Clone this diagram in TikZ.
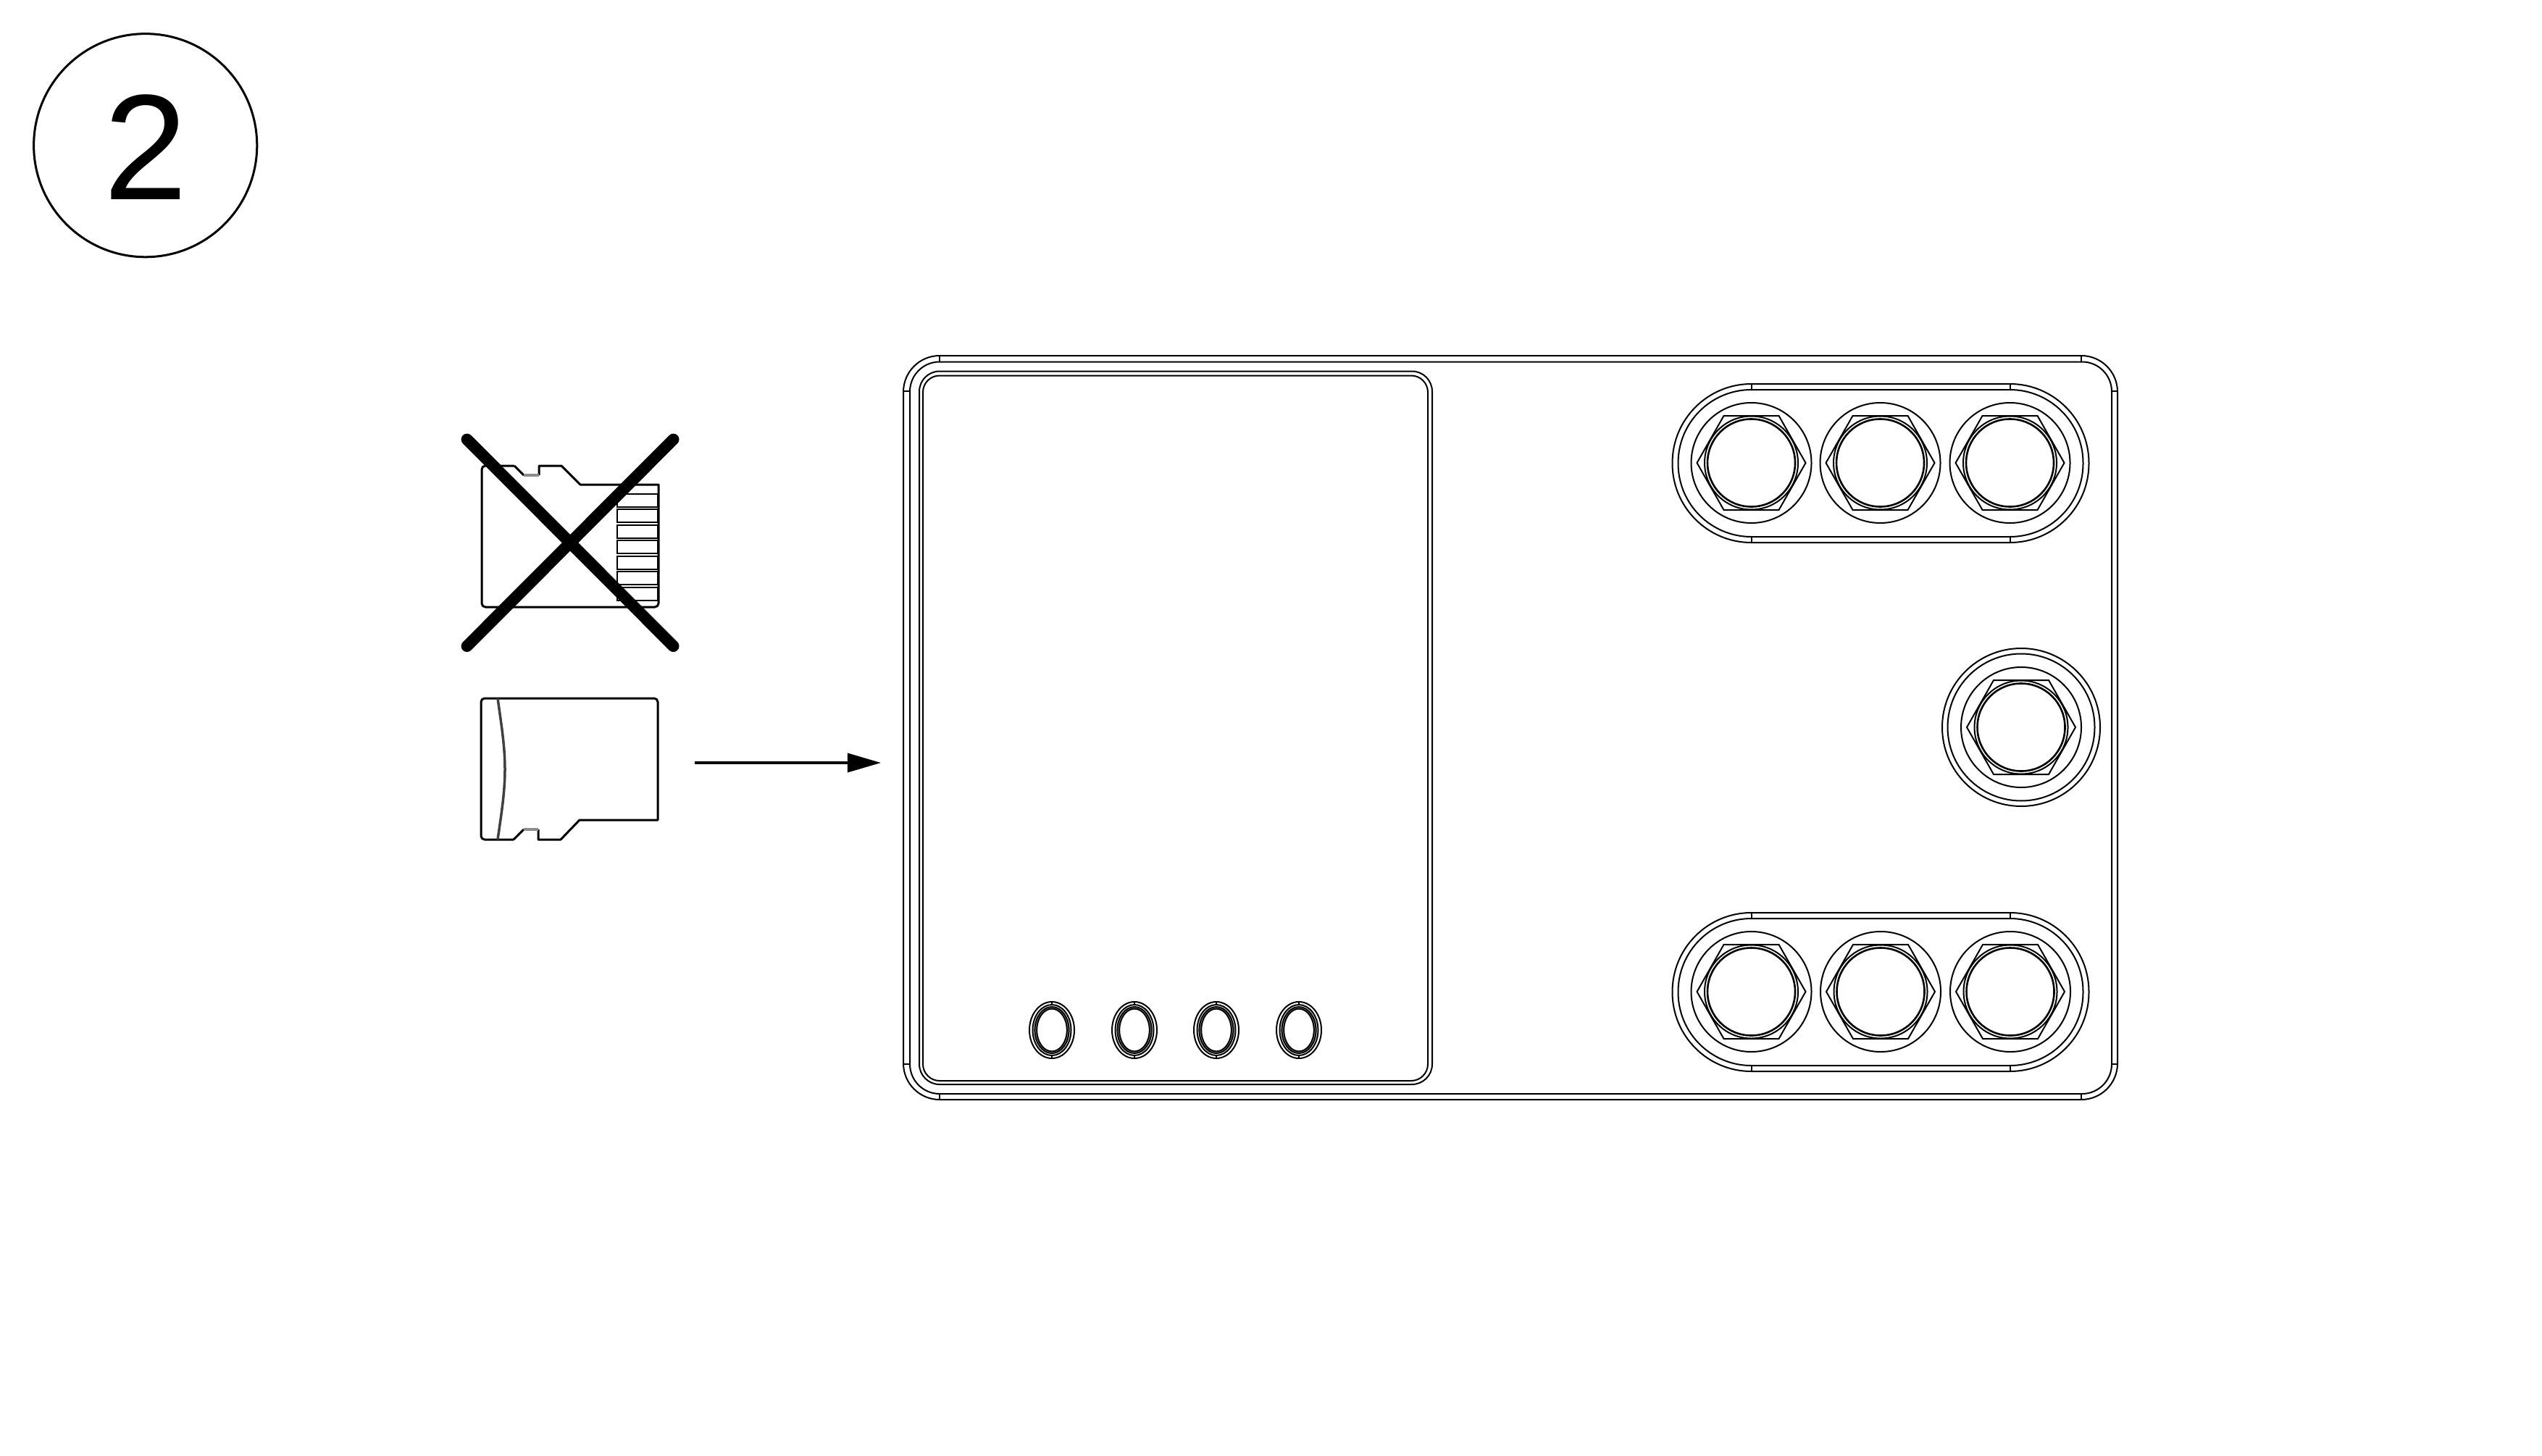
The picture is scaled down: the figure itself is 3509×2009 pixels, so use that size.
\documentclass[tikz,border=0pt]{standalone}
\usepackage{fontspec}
\setmainfont{Liberation Sans}
\usetikzlibrary{arrows.meta}

\begin{document}
\begin{tikzpicture}[
  x=0.01cm,y=-0.01cm,
  edge/.style={black,line width=0.02cm},
  ring/.style={black,line width=0.026cm},
  card/.style={black,line width=0.03cm,line join=round},
  cross/.style={black,line width=0.16cm,line cap=round},
  badge/.style={circle,draw=black,line width=0.03cm,inner sep=0,outer sep=0,minimum size=3.08cm,
    text height=1.5cm,font=\fontsize{59}{59}\selectfont},
  feed/.style={black,line width=0.035cm,-{Triangle[length=0.46cm,width=0.26cm]}}]

  \useasboundingbox (0,0) rectangle (3509,2009);

  \node[badge] (stepbadge) at (200.7,200.7) {2};

  % Body
  \draw[edge,rounded corners=0.5cm] (1247,491) rectangle (2923,1518);
  \draw[edge,rounded corners=0.41cm] (1256,499.5) rectangle (2915,1510);
  \foreach \i in {1297,2873} {
    \draw[edge] (\i,491)--(\i,499.5);
    \draw[edge] (\i,1510)--(\i,1518);
  }
  \foreach \i in {540,1469} {
    \draw[edge] (1247,\i)--(1256,\i);
    \draw[edge] (2915,\i)--(2923,\i);
  }

  % Screen
  \draw[edge,rounded corners=0.28cm] (1269,512.5) rectangle (1977,1497);
  \draw[edge,rounded corners=0.23cm] (1274,518.5) rectangle (1971,1492);

  % Buttons
  \foreach \i in {1452,1566,1679,1793} {
    \begin{scope}[shift={(\i,1422)}]
      \draw[edge] (0,0) ellipse [x radius=31,y radius=39];
      \draw[edge] (0,0) ellipse [x radius=26.5,y radius=35];
      \draw[black!40,line width=0.03cm] (0,0) ellipse [x radius=22.2,y radius=30.7];
      \draw[edge] (0,0) ellipse [x radius=23.6,y radius=32];
      \draw[edge] (0,0) ellipse [x radius=20.8,y radius=29.4];
      \draw[edge] (0,-39)--(0,-35);
      \draw[edge] (0,35)--(0,39);
    \end{scope}
  }

  % Slots
  \foreach \y in {639.5,1369.5} {
    \begin{scope}[yshift=-\y*0.01cm]
      \draw[edge,rounded corners=1.09cm] (2308.5,-109.5) rectangle (2883.5,109.5);
      \draw[edge,rounded corners=1.01cm] (2316.5,-101.5) rectangle (2875.5,101.5);
      \foreach \i in {2417.5,2774.5} {
        \draw[edge] (\i,-109.5)--(\i,-101.5);
        \draw[edge] (\i,101.5)--(\i,109.5);
      }
    \end{scope}
  }
  \draw[edge] (2790,1004) circle (109);
  \draw[edge] (2790,1004) circle (101.5);

  % Nuts
  \foreach \x/\y in {2417.5/639,2595.5/639,2774.5/639,2790/1004,2417.5/1369,2596/1369,2775/1369} {
    \begin{scope}[shift={(\x,\y)}]
      \draw[edge] (0,0) circle (83);
      \draw[edge] (-75,0)--(-38,-65)--(38,-65)--(75,0)--(38,65)--(-38,65)--cycle;
      \draw[edge] (0,0) circle (64.5);
      \draw[ring] (0,0) circle (60.5);
    \end{scope}
  }

  % Wrong way round
  \draw[card] (710,643)--(723,656);
  \draw[card] (744,656)--(744,643)--(775,643)--(801,669)--(909,669)--(909,833)
    [rounded corners=0.05cm] --(909,838)--(665,838)--(665,643)--(710,643);
  \draw[black!45,line width=0.035cm] (723,656)--(744,656);
  \foreach \i in {681.5,703,724.5,746,767.5,789,810.5}
    \draw[edge] (852,\i) rectangle (908,\i+18);
  \draw[cross] (644.6,606.6)--(929.5,892);
  \draw[cross] (929.5,606.6)--(644.6,892);

  % Right way round
  \draw[card] (709,1159)--(723,1145);
  \draw[card] (743,1145)--(743,1159)--(774,1159)--(800,1132)--(908,1132)--(908,969)
    [rounded corners=0.05cm] --(908,964)--(664,964)--(664,1159)--(709,1159);
  \draw[black!45,line width=0.035cm] (723,1145)--(743,1145);
  \draw[black!75,line width=0.035cm] (687,964) .. controls (692,1000) and (697,1030) .. (697,1062)
    .. controls (697,1094) and (692,1124) .. (687,1159);

  \coordinate (cardside) at (959,1053);
  \coordinate (bodyside) at (1216,1053);
  \draw[feed] (cardside)--(bodyside);
\end{tikzpicture}
\end{document}
